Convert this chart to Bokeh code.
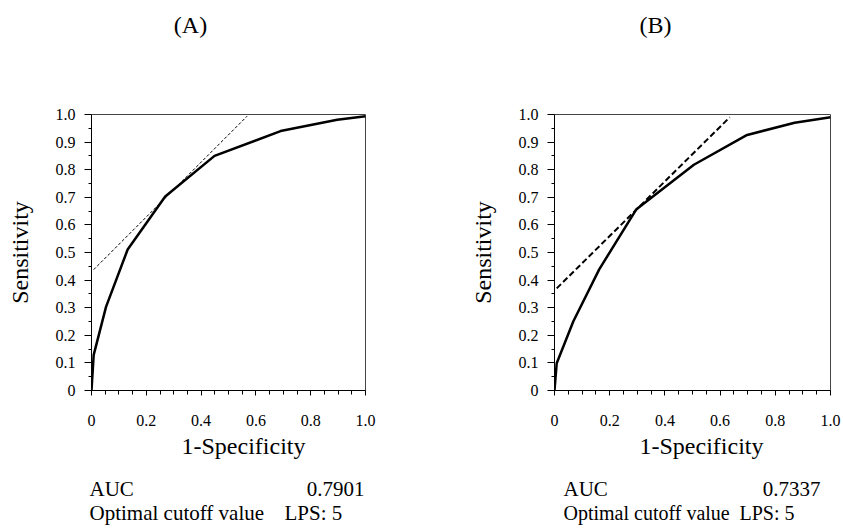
from bokeh.plotting import figure
from bokeh.layouts import row, column
from bokeh.models import Range1d, FixedTicker, Label
from bokeh.embed import file_html
from bokeh.resources import INLINE

# ---- data ----
panel_titles = ["(A)", "(B)"]

a_fpr = [0, 0.008, 0.053, 0.132, 0.269, 0.449, 0.69, 0.897, 1.0]
a_tpr = [0, 0.129, 0.303, 0.511, 0.703, 0.85, 0.94, 0.981, 0.994]
a_tan_x = [0.008, 0.568]
a_tan_y = [0.438, 0.994]

b_fpr = [0, 0.008, 0.068, 0.162, 0.297, 0.505, 0.698, 0.87, 1.0]
b_tpr = [0, 0.099, 0.25, 0.439, 0.657, 0.818, 0.926, 0.97, 0.99]
b_tan_x = [0.008, 0.635]
b_tan_y = [0.37, 0.99]

auc_label = "AUC"
auc_values = ["0.7901", "0.7337"]
cutoff_label = "Optimal cutoff value"
cutoff_values = ["LPS: 5", "LPS: 5"]

x_ticks = [0, 0.2, 0.4, 0.6, 0.8, 1.0]
x_tick_labels = ["0", "0.2", "0.4", "0.6", "0.8", "1.0"]
x_minor = [0, 0.05, 0.1, 0.15, 0.2, 0.25, 0.3, 0.35, 0.4, 0.45, 0.5,
           0.55, 0.6, 0.65, 0.7, 0.75, 0.8, 0.85, 0.9, 0.95, 1.0]
y_ticks = [0, 0.1, 0.2, 0.3, 0.4, 0.5, 0.6, 0.7, 0.8, 0.9, 1.0]
y_tick_labels = ["0", "0.1", "0.2", "0.3", "0.4", "0.5", "0.6", "0.7", "0.8", "0.9", "1.0"]
y_minor = [0.05, 0.15, 0.25, 0.35, 0.45, 0.55, 0.65, 0.75, 0.85, 0.95]

x_label = "1-Specificity"
y_label = "Sensitivity"

FONT = "Liberation Serif"
NB = "\u00a0"

TOP_H = 100
MAIN_H = 370
BOT_H = 58
W_A = 460
W_B = 383


def text_fig(width, height):
    f = figure(width=width, height=height, output_backend="svg", toolbar_location=None,
               title=None, x_axis_type=None, y_axis_type=None,
               x_range=Range1d(0, width), y_range=Range1d(height, 0),
               min_border=0, min_border_left=0, min_border_right=0,
               min_border_top=0, min_border_bottom=0)
    f.outline_line_color = None
    f.background_fill_color = "white"
    f.border_fill_color = "white"
    f.xgrid.visible = False
    f.ygrid.visible = False
    return f


def lab(f, x, y, text, size, align="left", baseline="alphabetic"):
    f.add_layout(Label(x=x, y=y, text=text, text_font=FONT, text_font_size=size,
                       text_align=align, text_baseline=baseline, text_color="black"))


def make_panel(width, border_left, frame_w, border_top, frame_h, height,
               fpr, tpr, tan_x, tan_y, dash, dash_w, xlab_shift):
    p = figure(width=width, height=height, output_backend="svg",
               toolbar_location=None, title=None,
               x_range=Range1d(0, 1), y_range=Range1d(0, 1),
               min_border_left=border_left,
               min_border_right=width - border_left - frame_w,
               min_border_top=border_top,
               min_border_bottom=height - border_top - frame_h)
    p.xgrid.visible = False
    p.ygrid.visible = False
    p.outline_line_color = "#444444"
    p.outline_line_width = 1
    p.background_fill_color = "white"
    p.border_fill_color = "white"

    for ax in (p.xaxis[0], p.yaxis[0]):
        ax.axis_line_color = "black"
        ax.major_tick_line_color = "black"
        ax.minor_tick_line_color = "black"
        ax.major_tick_in = 0
        ax.minor_tick_in = 0
        ax.major_label_text_font = FONT
        ax.major_label_text_font_size = "16px"
        ax.major_label_text_color = "black"
        ax.axis_label_text_font = FONT
        ax.axis_label_text_font_size = "24px"
        ax.axis_label_text_font_style = "normal"
        ax.axis_label_text_color = "black"
    p.xaxis.major_tick_out = 5
    p.xaxis.minor_tick_out = 4
    p.yaxis.major_tick_out = 7
    p.yaxis.minor_tick_out = 3
    p.xaxis.ticker = FixedTicker(ticks=x_ticks, minor_ticks=x_minor)
    p.yaxis.ticker = FixedTicker(ticks=y_ticks, minor_ticks=y_minor)
    p.xaxis.major_label_overrides = dict(zip(x_ticks, x_tick_labels))
    p.yaxis.major_label_overrides = dict(zip(y_ticks, y_tick_labels))
    p.xaxis.major_label_standoff = 19
    p.yaxis.major_label_standoff = 9

    p.yaxis.axis_label = y_label
    p.yaxis.axis_label_standoff = 20
    # leading no-break spaces nudge the centred label to the right, as in the figure
    p.xaxis.axis_label = NB * xlab_shift + x_label
    p.xaxis.axis_label_standoff = 4

    p.line(tan_x, tan_y, line_color="black", line_width=dash_w, line_dash=dash)
    p.line(fpr, tpr, line_color="black", line_width=2.5)
    return p


# panel titles
ta = text_fig(W_A, TOP_H)
lab(ta, 190, 24, panel_titles[0], "24px", "center", "middle")
tb = text_fig(W_B, TOP_H)
lab(tb, 195, 24, panel_titles[1], "24px", "center", "middle")

# plots (frame top at page y 114 / 112)
pa = make_panel(W_A, 91, 274, 114 - TOP_H, 277, MAIN_H,
                a_fpr, a_tpr, a_tan_x, a_tan_y, "3 2", 1, 5)
pb = make_panel(W_B, 94, 276, 112 - TOP_H, 278, MAIN_H,
                b_fpr, b_tpr, b_tan_x, b_tan_y, "6 3", 2, 3)

# AUC / cutoff rows under the plots
ba = text_fig(W_A, BOT_H)
lab(ba, 89, 18, auc_label, "21px")
lab(ba, 364, 18, auc_values[0], "21px", "right")
lab(ba, 89, 42, cutoff_label, "21px")
lab(ba, 284, 42, cutoff_values[0], "21px")

bb = text_fig(W_B, BOT_H)
lab(bb, 103, 18, auc_label, "21px")
lab(bb, 360, 18, auc_values[1], "21px", "right")
lab(bb, 103, 42, cutoff_label, "20px")
lab(bb, 279, 42, cutoff_values[1], "20px")

layout = column(row(ta, tb), row(pa, pb), row(ba, bb))
open("out.html", "w").write(file_html(layout, INLINE))
